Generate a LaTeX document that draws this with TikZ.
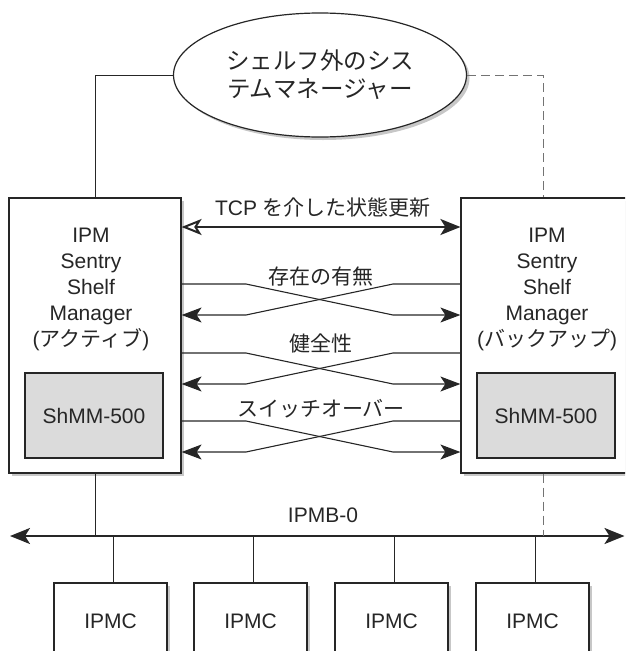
\documentclass[tikz,border=0pt]{standalone}
\usepackage{fontspec}
\setmainfont{Liberation Sans}
\newfontfamily\jp{Noto Sans CJK JP}
\usetikzlibrary{arrows.meta,shapes.geometric,shadows}

\begin{document}
\begin{tikzpicture}[
    x=1pt, y=-1pt,
    every node/.style={font=\fontsize{21}{26}\selectfont, text=black!85, align=center, inner sep=0pt},
    shadowed/.style={drop shadow={shadow xshift=3pt, shadow yshift=-3pt, fill=black!22, opacity=1}},
    mgrbox/.style={draw=black!85, line width=1.2pt, fill=white, shadowed, minimum width=172pt, minimum height=275pt},
    chipbox/.style={draw=black!85, line width=1.2pt, fill=black!14, minimum width=138pt, minimum height=85pt},
    ipmcbox/.style={draw=black!85, line width=1.2pt, fill=white, shadowed, minimum width=113pt, minimum height=76pt},
    wire/.style={draw=black!85, line width=1pt},
    dashwire/.style={draw=black!55, line width=1pt, dash pattern=on 9pt off 5pt},
    tip/.style={-{Stealth[length=20pt,width=15pt,inset=5pt]}},
    xarrow/.style={wire, line width=1.1pt, tip},
  ]
  \clip (0,0) rectangle (625,651);

  % system manager outside the shelf
  \node[ellipse, draw=black!85, line width=1.2pt, fill=white, shadowed,
        minimum width=293pt, minimum height=124pt,
        font=\jp\fontsize{23.5}{28}\selectfont] (sysmgr) at (320,75)
        {シェルフ外のシス\\テムマネージャー};

  % shelf managers
  \node[mgrbox] (active) at (95,335.5) {};
  \node[mgrbox] (backup) at (547,335.5) {};
  \node (activetxt) at (91,289) {IPM\\Sentry\\Shelf\\Manager\\({\jp アクティブ})};
  \node (backuptxt) at (547,289) {IPM\\Sentry\\Shelf\\Manager\\({\jp バックアップ})};
  \node[chipbox] (shmmA) at (94,415.5) {ShMM-500};
  \node[chipbox] (shmmB) at (546,415.5) {ShMM-500};

  % links to the system manager
  \draw[wire, line width=0.9pt] (sysmgr.west) -| (active.north);
  \draw[dashwire] (sysmgr.east) -| ([xshift=-4pt]backup.north);

  % state update over TCP
  \coordinate (tcp) at (0,227);
  \node (tcplbl) at (323,208) {TCP {\jp を介した状態更新}};
  \draw[wire, line width=2pt, {Stealth[open,length=20pt,width=16pt,inset=5pt]}-{Stealth[length=20pt,width=16pt,inset=5pt]}]
    (active.east |- tcp) -- (backup.west |- tcp);

  % crossing signals
  \foreach \y/\ly/\lbl [count=\i] in {284/277/存在の有無, 353/343/健全性, 421/409/スイッチオーバー} {
    \coordinate (hi\i) at (0,\y);
    \coordinate (lo\i) at (0,\y+31);
    \node (sig\i) at (321,\ly) {\jp \lbl};
    \draw[xarrow] (active.east |- hi\i) -- (246,\y) -- (393,\y+31) -- (backup.west |- lo\i);
    \draw[xarrow] (backup.west |- hi\i) -- (393,\y) -- (246,\y+31) -- (active.east |- lo\i);
  }

  % IPMB-0 bus
  \coordinate (busL) at (10,536);
  \coordinate (busR) at (624.5,536);
  \draw[wire, line width=2.2pt, {Stealth[length=20pt,width=16pt,inset=5pt]}-{Stealth[length=20pt,width=16pt,inset=5pt]}]
    (busL) -- (busR);
  \node (buslbl) at (323,515) {IPMB-0};
  \draw[wire, line width=0.9pt] (active.south) -- (active.south |- busL);
  \draw[dashwire] ([xshift=-4pt]backup.south) -- ([xshift=-4pt]backup.south |- busL);

  % IPM controllers
  \foreach \x [count=\i] in {110.5, 250.5, 391.5, 532.5} {
    \node[ipmcbox] (ipmc\i) at (\x,621) {IPMC};
    \draw[wire] ([xshift=3pt]ipmc\i.north) -- ([xshift=3pt]ipmc\i.north |- busL);
  }
\end{tikzpicture}
\end{document}
